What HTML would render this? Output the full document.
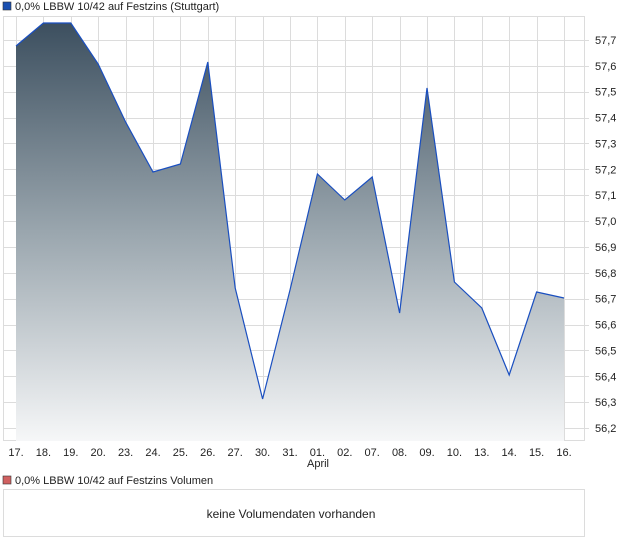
<!DOCTYPE html>
<html><head><meta charset="utf-8"><style>
body{margin:0;background:#fff;font-family:"Liberation Sans",sans-serif;}
</style></head><body>
<svg width="620" height="546" xmlns="http://www.w3.org/2000/svg" font-family="Liberation Sans, sans-serif">
<defs><linearGradient id="g" x1="0" y1="0" x2="0" y2="1">
<stop offset="0" stop-color="#3c4f5f"/><stop offset="0.5" stop-color="#9aa6ae"/><stop offset="1" stop-color="#f6f7f8"/></linearGradient></defs>
<rect x="3" y="2" width="8" height="8" fill="#1a4fb0" stroke="#333" stroke-width="0.6"/>
<text x="15" y="10" font-size="11" fill="#222">0,0% LBBW 10/42 auf Festzins (Stuttgart)</text>
<g stroke="#dcdcdc" stroke-width="1">
<rect x="3.5" y="16.5" width="581" height="424" fill="none"/>
<g id="v"></g>
</g>
<g id="grid" stroke="#dcdcdc"></g>
<path id="area" fill="url(#g)"/>
<path id="line" fill="none" stroke="#1a4fc0" stroke-width="1.2"/>
<g id="lbl" font-size="11" fill="#222"></g>
<text x="318" y="467" font-size="11" fill="#222" text-anchor="middle">April</text>
<rect x="3" y="476" width="8" height="8" fill="#d06060" stroke="#333" stroke-width="0.6"/>
<text x="15" y="484" font-size="11" fill="#222">0,0% LBBW 10/42 auf Festzins Volumen</text>
<rect x="3.5" y="489.5" width="581" height="47" fill="none" stroke="#dcdcdc"/>
<text x="291" y="518" font-size="12" fill="#222" text-anchor="middle">keine Volumendaten vorhanden</text>
</svg>
<script>
var ns="http://www.w3.org/2000/svg";
var days=["17.","18.","19.","20.","23.","24.","25.","26.","27.","30.","31.","01.","02.","07.","08.","09.","10.","13.","14.","15.","16."];
var ys=[46,23,23,64,122,172,164,62,288,399,290,174,200,177,313,88,282,308,375,292,298];
var g=document.getElementById("grid"),l=document.getElementById("lbl");
function el(n,a,p){var e=document.createElementNS(ns,n);for(var k in a)e.setAttribute(k,a[k]);p.appendChild(e);return e;}
var xs=[];
for(var i=0;i<21;i++){var x=16+27.4*i;xs.push(x);
el("line",{x1:Math.round(x)+.5,x2:Math.round(x)+.5,y1:16,y2:441},g);
var t=el("text",{x:x,y:456,"text-anchor":"middle"},l);t.textContent=days[i];}
for(var j=0;j<16;j++){var v=57.7-j*0.1,y=40+j*25.87;
el("line",{x1:3,x2:589,y1:Math.round(y)+.5,y2:Math.round(y)+.5},g);
var t=el("text",{x:595,y:y+4},l);t.textContent=v.toFixed(1).replace(".",",");}
var d="M"+xs[0]+" 441";var ld="";
for(var i=0;i<21;i++){d+=" L"+xs[i]+" "+ys[i];ld+=(i?" L":"M")+xs[i]+" "+ys[i];}
d+=" L"+xs[20]+" 441Z";
document.getElementById("area").setAttribute("d",d);
document.getElementById("line").setAttribute("d",ld);
</script>
</body></html>
